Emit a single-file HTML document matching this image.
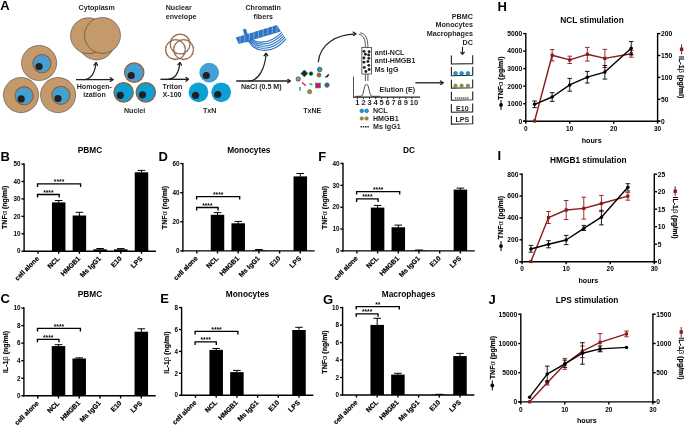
<!DOCTYPE html>
<html><head><meta charset="utf-8"><title>Figure</title>
<style>html,body{margin:0;padding:0;background:#fff}svg{display:block}</style></head>
<body>
<svg width="685" height="425" viewBox="0 0 685 425" font-family='"Liberation Sans", Arial, sans-serif'>
<rect width="685" height="425" fill="#fff"/>
<text x="0.30" y="10.00" font-size="13" text-anchor="start" font-weight="bold" fill="#000">A</text>
<circle cx="39.10" cy="63.00" r="17.60" fill="#c49a6c" stroke="#231f20" stroke-width="0.45"/>
<circle cx="41.90" cy="63.60" r="9.10" fill="#44a0d2" stroke="#9a5b2b" stroke-width="1.1"/>
<circle cx="39.00" cy="66.50" r="3.60" fill="#231f20" stroke="none" stroke-width="0"/>
<circle cx="21.00" cy="95.10" r="17.60" fill="#c49a6c" stroke="#231f20" stroke-width="0.45"/>
<circle cx="24.10" cy="95.70" r="9.10" fill="#44a0d2" stroke="#9a5b2b" stroke-width="1.1"/>
<circle cx="21.20" cy="98.90" r="3.60" fill="#231f20" stroke="none" stroke-width="0"/>
<circle cx="58.10" cy="95.10" r="17.60" fill="#c49a6c" stroke="#231f20" stroke-width="0.45"/>
<circle cx="60.90" cy="95.30" r="9.10" fill="#44a0d2" stroke="#9a5b2b" stroke-width="1.1"/>
<circle cx="58.00" cy="98.50" r="3.60" fill="#231f20" stroke="none" stroke-width="0"/>
<circle cx="96.50" cy="41.90" r="18.00" fill="#c49a6c" stroke="#231f20" stroke-width="0.45"/>
<circle cx="88.50" cy="35.70" r="18.00" fill="#c49a6c" stroke="#231f20" stroke-width="0.45"/>
<circle cx="102.50" cy="35.40" r="18.00" fill="#c49a6c" stroke="#231f20" stroke-width="0.45"/>
<text x="78.60" y="9.90" font-size="7.1" text-anchor="start" font-weight="bold" fill="#231f20">Cytoplasm</text>
<defs><marker id="ah" viewBox="0 0 10 10" refX="8.6" refY="5" markerWidth="5" markerHeight="5" orient="auto-start-reverse" markerUnits="userSpaceOnUse"><path d="M3.2 1.2L8.6 5L3.2 8.8" fill="none" stroke="#231f20" stroke-width="2.5" stroke-linecap="round" stroke-linejoin="miter"/></marker></defs>
<path d="M76 79.6H113" fill="none" stroke="#231f20" stroke-width="1.35" marker-end="url(#ah)"/>
<path d="M83.4 79.6C91 79.6 95 72 96.1 62.6" fill="none" stroke="#231f20" stroke-width="1.2" marker-end="url(#ah)"/>
<text x="94.30" y="88.70" font-size="7.1" text-anchor="middle" font-weight="bold" fill="#231f20">Homogen-</text>
<text x="94.50" y="97.40" font-size="7.1" text-anchor="middle" font-weight="bold" fill="#231f20">ization</text>
<circle cx="134.20" cy="72.60" r="9.70" fill="#44a0d2" stroke="#9a5b2b" stroke-width="1.2"/>
<circle cx="131.20" cy="75.50" r="3.60" fill="#231f20" stroke="none" stroke-width="0"/>
<circle cx="123.60" cy="92.40" r="9.70" fill="#0d9fd6" stroke="#9a5b2b" stroke-width="1.2"/>
<circle cx="120.30" cy="95.30" r="3.60" fill="#231f20" stroke="none" stroke-width="0"/>
<circle cx="145.80" cy="92.40" r="9.70" fill="#0d9fd6" stroke="#9a5b2b" stroke-width="1.2"/>
<circle cx="142.50" cy="94.80" r="3.60" fill="#231f20" stroke="none" stroke-width="0"/>
<text x="134.60" y="112.60" font-size="7.1" text-anchor="middle" font-weight="bold" fill="#231f20">Nuclei</text>
<path d="M160.4 79.3H188.6" fill="none" stroke="#231f20" stroke-width="1.35" marker-end="url(#ah)"/>
<path d="M167.7 79.3C175 79.3 179 72 180.0 62.4" fill="none" stroke="#231f20" stroke-width="1.2" marker-end="url(#ah)"/>
<text x="162.60" y="88.80" font-size="7.1" text-anchor="start" font-weight="bold" fill="#231f20">Triton</text>
<text x="162.60" y="97.20" font-size="7.1" text-anchor="start" font-weight="bold" fill="#231f20">X-100</text>
<text x="165.70" y="9.90" font-size="7.1" text-anchor="start" font-weight="bold" fill="#231f20">Nuclear</text>
<text x="165.70" y="18.50" font-size="7.1" text-anchor="start" font-weight="bold" fill="#231f20">envelope</text>
<circle cx="180.10" cy="44.00" r="9.90" fill="none" stroke="#8b5a3c" stroke-width="1.3"/>
<circle cx="180.10" cy="44.00" r="9.90" fill="none" stroke="#fff" stroke-width="0.7" stroke-dasharray="0.6 2.3" opacity="0.85"/>
<circle cx="175.50" cy="49.60" r="9.90" fill="none" stroke="#8b5a3c" stroke-width="1.3"/>
<circle cx="175.50" cy="49.60" r="9.90" fill="none" stroke="#fff" stroke-width="0.7" stroke-dasharray="0.6 2.3" opacity="0.85"/>
<circle cx="183.60" cy="49.60" r="9.90" fill="none" stroke="#8b5a3c" stroke-width="1.3"/>
<circle cx="183.60" cy="49.60" r="9.90" fill="none" stroke="#fff" stroke-width="0.7" stroke-dasharray="0.6 2.3" opacity="0.85"/>
<circle cx="209.20" cy="72.60" r="9.85" fill="#44a0d2" stroke="none" stroke-width="0"/>
<circle cx="206.30" cy="75.50" r="3.60" fill="#231f20" stroke="none" stroke-width="0"/>
<circle cx="198.50" cy="92.30" r="9.85" fill="#0d9fd6" stroke="none" stroke-width="0"/>
<circle cx="195.60" cy="95.30" r="3.60" fill="#231f20" stroke="none" stroke-width="0"/>
<circle cx="221.20" cy="92.30" r="9.85" fill="#0d9fd6" stroke="none" stroke-width="0"/>
<circle cx="217.70" cy="94.50" r="3.60" fill="#231f20" stroke="none" stroke-width="0"/>
<text x="209.60" y="113.40" font-size="7.1" text-anchor="middle" font-weight="bold" fill="#231f20">TxN</text>
<path d="M236.2 81H290.3" fill="none" stroke="#231f20" stroke-width="1.35" marker-end="url(#ah)"/>
<path d="M248.6 81C259 81 265 68 266.2 53.2" fill="none" stroke="#231f20" stroke-width="1.2" marker-end="url(#ah)"/>
<text x="241.00" y="89.40" font-size="7.1" text-anchor="start" font-weight="bold" fill="#231f20">NaCl (0.5 M)</text>
<text x="263.20" y="9.90" font-size="7.1" text-anchor="middle" font-weight="bold" fill="#231f20">Chromatin</text>
<text x="263.20" y="18.70" font-size="7.1" text-anchor="middle" font-weight="bold" fill="#231f20">fibers</text>
<g stroke="#2d74c4" fill="none" stroke-width="1.1">
<path d="M249.0 35.0C253.0 44.0 268.0 46.0 281.8 32.3"/>
<path d="M248.5 35.2C252.2 46.2 269.0 48.5 282.9 33.9"/>
<path d="M248.0 35.5C251.5 48.5 270.0 51.0 284.0 35.6"/>
<path d="M247.5 35.8C250.8 50.8 271.0 53.5 285.0 37.2"/>
<path d="M247.0 36.0C250.0 53.0 272.0 56.0 286.1 38.9"/>
</g>
<path d="M243.0 29.9Q244.5 27.6 246.2 29.6L250 41L246.0 42.5Z" fill="#2d74c4"/>
<path d="M235.7 37.5L276.9 25.1L280.9 31.4L238.8 44.1Z" fill="#2d74c4"/>
<line x1="240.0" y1="42.9" x2="240.2" y2="35.7" stroke="#fff" stroke-width="0.5" opacity="0.75"/>
<line x1="244.6" y1="41.5" x2="244.8" y2="34.3" stroke="#fff" stroke-width="0.5" opacity="0.75"/>
<line x1="249.2" y1="40.1" x2="249.4" y2="32.9" stroke="#fff" stroke-width="0.5" opacity="0.75"/>
<line x1="253.8" y1="38.8" x2="254.0" y2="31.6" stroke="#fff" stroke-width="0.5" opacity="0.75"/>
<line x1="258.4" y1="37.4" x2="258.6" y2="30.2" stroke="#fff" stroke-width="0.5" opacity="0.75"/>
<line x1="263.0" y1="36.0" x2="263.2" y2="28.8" stroke="#fff" stroke-width="0.5" opacity="0.75"/>
<line x1="267.6" y1="34.6" x2="267.8" y2="27.4" stroke="#fff" stroke-width="0.5" opacity="0.75"/>
<line x1="272.2" y1="33.2" x2="272.4" y2="26.0" stroke="#fff" stroke-width="0.5" opacity="0.75"/>
<line x1="276.8" y1="31.9" x2="277.0" y2="24.7" stroke="#fff" stroke-width="0.5" opacity="0.75"/>
<circle cx="298.20" cy="79.00" r="2.20" fill="#9d9d9d" stroke="#231f20" stroke-width="0.6"/>
<path d="M304.4 69.9L307.9 73.4L304.4 76.9L300.9 73.4Z" fill="#231f20" stroke="#00a651" stroke-width="0.7"/>
<circle cx="311.00" cy="73.60" r="1.90" fill="#231f20" stroke="#00a651" stroke-width="0.7"/>
<circle cx="319.70" cy="69.50" r="2.30" fill="#1c9ad6" stroke="#231f20" stroke-width="0.55"/>
<circle cx="319.00" cy="75.00" r="2.10" fill="#e03c31" stroke="#00a651" stroke-width="0.7"/>
<path d="M325.4 76.9Q328 76.4 328.7 74.2" fill="none" stroke="#231f20" stroke-width="1.5"/>
<line x1="301.90" y1="82.60" x2="305.80" y2="85.50" stroke="#e6007e" stroke-width="1.3" stroke-linecap="butt"/>
<line x1="309.50" y1="83.60" x2="312.40" y2="84.80" stroke="#00a651" stroke-width="1.3" stroke-linecap="butt"/>
<line x1="300.00" y1="87.00" x2="300.00" y2="90.70" stroke="#00a651" stroke-width="1.3" stroke-linecap="butt"/>
<rect x="315.60" y="83.10" width="4.80" height="4.80" fill="#e6007e" stroke="#00a651" stroke-width="0.7"/>
<circle cx="327.00" cy="85.10" r="2.30" fill="#7b3fa0" stroke="#00a651" stroke-width="0.7"/>
<circle cx="309.60" cy="91.70" r="2.10" fill="#f26522" stroke="#00a651" stroke-width="0.7"/>
<text x="312.20" y="112.60" font-size="7.1" text-anchor="middle" font-weight="bold" fill="#231f20">TxNE</text>
<path d="M318.2 62.3C320 44 336 34.5 355.9 33.9" fill="none" stroke="#231f20" stroke-width="1.2" marker-end="url(#ah)"/>
<path d="M358.9 34.4C363.5 35 365.4 39 365.4 47.4" fill="none" stroke="#231f20" stroke-width="0.75"/>
<path d="M360.2 32.9C366 33.5 367.9 39 367.9 47.4" fill="none" stroke="#231f20" stroke-width="0.75"/>
<rect x="361.90" y="47.40" width="9.70" height="26.60" fill="#fff" stroke="#231f20" stroke-width="0.7"/>
<circle cx="363.98" cy="51.35" r="1.45" fill="#231f20" stroke="none" stroke-width="0"/>
<circle cx="369.09" cy="51.79" r="1.45" fill="#231f20" stroke="none" stroke-width="0"/>
<circle cx="365.44" cy="54.27" r="1.45" fill="#231f20" stroke="none" stroke-width="0"/>
<circle cx="368.65" cy="55.00" r="1.45" fill="#231f20" stroke="none" stroke-width="0"/>
<circle cx="363.98" cy="58.07" r="1.45" fill="#231f20" stroke="none" stroke-width="0"/>
<circle cx="368.80" cy="58.36" r="1.45" fill="#231f20" stroke="none" stroke-width="0"/>
<circle cx="367.92" cy="61.57" r="1.45" fill="#231f20" stroke="none" stroke-width="0"/>
<circle cx="363.98" cy="62.15" r="1.45" fill="#231f20" stroke="none" stroke-width="0"/>
<circle cx="368.80" cy="65.36" r="1.45" fill="#231f20" stroke="none" stroke-width="0"/>
<circle cx="364.27" cy="67.41" r="1.45" fill="#231f20" stroke="none" stroke-width="0"/>
<circle cx="369.09" cy="69.45" r="1.45" fill="#231f20" stroke="none" stroke-width="0"/>
<circle cx="365.88" cy="71.50" r="1.45" fill="#231f20" stroke="none" stroke-width="0"/>
<line x1="365.40" y1="74.00" x2="365.40" y2="81.00" stroke="#231f20" stroke-width="0.75" stroke-linecap="butt"/>
<line x1="367.90" y1="74.00" x2="367.90" y2="81.00" stroke="#231f20" stroke-width="0.75" stroke-linecap="butt"/>
<text x="374.80" y="54.70" font-size="7.1" text-anchor="start" font-weight="bold" fill="#231f20">anti-NCL</text>
<text x="374.80" y="63.40" font-size="7.1" text-anchor="start" font-weight="bold" fill="#231f20">anti-HMGB1</text>
<text x="374.80" y="71.60" font-size="7.1" text-anchor="start" font-weight="bold" fill="#231f20">Ms IgG</text>
<line x1="353.50" y1="76.60" x2="353.50" y2="97.50" stroke="#231f20" stroke-width="0.8" stroke-linecap="butt"/>
<line x1="353.20" y1="97.20" x2="420.20" y2="97.20" stroke="#231f20" stroke-width="1.2" stroke-linecap="butt"/>
<path d="M355.5 96.3H361C364 96.3 363.6 84.3 366.5 84.3C369.4 84.3 369 96.3 372 96.3H380" fill="none" stroke="#231f20" stroke-width="0.8"/>
<line x1="357.40" y1="97.20" x2="357.40" y2="99.20" stroke="#231f20" stroke-width="0.9" stroke-linecap="butt"/>
<text x="357.40" y="105.40" font-size="7.5" text-anchor="middle" font-weight="bold" fill="#231f20">1</text>
<line x1="363.50" y1="97.20" x2="363.50" y2="99.20" stroke="#231f20" stroke-width="0.9" stroke-linecap="butt"/>
<text x="363.50" y="105.40" font-size="7.5" text-anchor="middle" font-weight="bold" fill="#231f20">2</text>
<line x1="369.50" y1="97.20" x2="369.50" y2="99.20" stroke="#231f20" stroke-width="0.9" stroke-linecap="butt"/>
<text x="369.50" y="105.40" font-size="7.5" text-anchor="middle" font-weight="bold" fill="#231f20">3</text>
<line x1="375.70" y1="97.20" x2="375.70" y2="99.20" stroke="#231f20" stroke-width="0.9" stroke-linecap="butt"/>
<text x="375.70" y="105.40" font-size="7.5" text-anchor="middle" font-weight="bold" fill="#231f20">4</text>
<line x1="381.50" y1="97.20" x2="381.50" y2="99.20" stroke="#231f20" stroke-width="0.9" stroke-linecap="butt"/>
<text x="381.50" y="105.40" font-size="7.5" text-anchor="middle" font-weight="bold" fill="#231f20">5</text>
<line x1="387.60" y1="97.20" x2="387.60" y2="99.20" stroke="#231f20" stroke-width="0.9" stroke-linecap="butt"/>
<text x="387.60" y="105.40" font-size="7.5" text-anchor="middle" font-weight="bold" fill="#231f20">6</text>
<line x1="393.60" y1="97.20" x2="393.60" y2="99.20" stroke="#231f20" stroke-width="0.9" stroke-linecap="butt"/>
<text x="393.60" y="105.40" font-size="7.5" text-anchor="middle" font-weight="bold" fill="#231f20">7</text>
<line x1="399.70" y1="97.20" x2="399.70" y2="99.20" stroke="#231f20" stroke-width="0.9" stroke-linecap="butt"/>
<text x="399.70" y="105.40" font-size="7.5" text-anchor="middle" font-weight="bold" fill="#231f20">8</text>
<line x1="405.90" y1="97.20" x2="405.90" y2="99.20" stroke="#231f20" stroke-width="0.9" stroke-linecap="butt"/>
<text x="405.90" y="105.40" font-size="7.5" text-anchor="middle" font-weight="bold" fill="#231f20">9</text>
<line x1="411.90" y1="97.20" x2="411.90" y2="99.20" stroke="#231f20" stroke-width="0.9" stroke-linecap="butt"/>
<text x="413.90" y="105.40" font-size="7.5" text-anchor="middle" font-weight="bold" fill="#231f20">10</text>
<text x="379.60" y="92.20" font-size="7.1" text-anchor="start" font-weight="bold" fill="#231f20">Elution (E)</text>
<path d="M415.4 82.8H443.2" fill="none" stroke="#231f20" stroke-width="1.35" marker-end="url(#ah)"/>
<circle cx="361.80" cy="110.80" r="1.90" fill="#1c9ad6" stroke="#0f6f9f" stroke-width="0.6"/>
<circle cx="366.60" cy="110.80" r="1.90" fill="#1c9ad6" stroke="#0f6f9f" stroke-width="0.6"/>
<text x="373.00" y="113.20" font-size="7.1" text-anchor="start" font-weight="bold" fill="#231f20">NCL</text>
<circle cx="361.80" cy="118.50" r="1.70" fill="#f26522" stroke="#00a651" stroke-width="0.6"/>
<circle cx="366.60" cy="118.50" r="1.70" fill="#f26522" stroke="#00a651" stroke-width="0.6"/>
<text x="373.00" y="121.00" font-size="7.1" text-anchor="start" font-weight="bold" fill="#231f20">HMGB1</text>
<line x1="360.6" y1="126.8" x2="368.8" y2="126.8" stroke="#231f20" stroke-width="1.4" stroke-dasharray="1.4 0.85"/>
<text x="373.00" y="129.20" font-size="7.1" text-anchor="start" font-weight="bold" fill="#231f20">Ms IgG1</text>
<text x="473.00" y="18.70" font-size="7.2" text-anchor="end" font-weight="bold" fill="#231f20">PBMC</text>
<text x="473.00" y="27.40" font-size="7.2" text-anchor="end" font-weight="bold" fill="#231f20">Monocytes</text>
<text x="473.00" y="36.20" font-size="7.2" text-anchor="end" font-weight="bold" fill="#231f20">Macrophages</text>
<text x="473.00" y="44.60" font-size="7.2" text-anchor="end" font-weight="bold" fill="#231f20">DC</text>
<path d="M462.5 46.7V54.2M460.4 51.8L462.5 54.4L464.6 51.8" fill="none" stroke="#231f20" stroke-width="1.1"/>
<path d="M451.4 55.5V64.0L472.7 63.6V55.2" fill="none" stroke="#231f20" stroke-width="1.1"/>
<path d="M451.4 67.0V75.7L472.7 75.3V66.7" fill="none" stroke="#231f20" stroke-width="1.1"/>
<circle cx="455.50" cy="73.30" r="1.90" fill="#1c9ad6" stroke="#0f6f9f" stroke-width="0.6"/>
<circle cx="461.60" cy="73.30" r="1.90" fill="#1c9ad6" stroke="#0f6f9f" stroke-width="0.6"/>
<circle cx="467.90" cy="73.30" r="1.90" fill="#1c9ad6" stroke="#0f6f9f" stroke-width="0.6"/>
<path d="M451.4 79.8V88.1L472.7 87.69999999999999V79.5" fill="none" stroke="#231f20" stroke-width="1.1"/>
<circle cx="455.50" cy="85.70" r="1.70" fill="#f26522" stroke="#00a651" stroke-width="0.6"/>
<circle cx="461.60" cy="85.70" r="1.70" fill="#f26522" stroke="#00a651" stroke-width="0.6"/>
<circle cx="467.90" cy="85.70" r="1.70" fill="#f26522" stroke="#00a651" stroke-width="0.6"/>
<path d="M451.4 91.7V100.2L472.7 99.8V91.4" fill="none" stroke="#231f20" stroke-width="1.1"/>
<line x1="455.2" y1="98.0" x2="468.4" y2="98.0" stroke="#231f20" stroke-width="1.3" stroke-dasharray="1.0 1.03"/>
<path d="M451.4 103.9V112.3L472.7 111.89999999999999V103.60000000000001" fill="none" stroke="#231f20" stroke-width="1.1"/>
<text x="462.30" y="111.10" font-size="7.1" text-anchor="middle" font-weight="bold" fill="#231f20">E10</text>
<path d="M451.4 115.8V124.1L472.7 123.69999999999999V115.5" fill="none" stroke="#231f20" stroke-width="1.1"/>
<text x="462.40" y="121.80" font-size="7.1" text-anchor="middle" font-weight="bold" fill="#231f20">LPS</text>
<line x1="24.10" y1="163.40" x2="24.10" y2="251.90" stroke="#000" stroke-width="1.4" stroke-linecap="butt"/>
<line x1="23.40" y1="251.20" x2="155.90" y2="251.20" stroke="#000" stroke-width="1.4" stroke-linecap="butt"/>
<line x1="21.50" y1="251.20" x2="24.10" y2="251.20" stroke="#000" stroke-width="1.4" stroke-linecap="butt"/>
<text x="20.60" y="253.45" font-size="6.3" text-anchor="end" font-weight="bold" fill="#000">0</text>
<line x1="21.50" y1="233.80" x2="24.10" y2="233.80" stroke="#000" stroke-width="1.4" stroke-linecap="butt"/>
<text x="20.60" y="236.05" font-size="6.3" text-anchor="end" font-weight="bold" fill="#000">10</text>
<line x1="21.50" y1="216.40" x2="24.10" y2="216.40" stroke="#000" stroke-width="1.4" stroke-linecap="butt"/>
<text x="20.60" y="218.65" font-size="6.3" text-anchor="end" font-weight="bold" fill="#000">20</text>
<line x1="21.50" y1="198.90" x2="24.10" y2="198.90" stroke="#000" stroke-width="1.4" stroke-linecap="butt"/>
<text x="20.60" y="201.15" font-size="6.3" text-anchor="end" font-weight="bold" fill="#000">30</text>
<line x1="21.50" y1="181.50" x2="24.10" y2="181.50" stroke="#000" stroke-width="1.4" stroke-linecap="butt"/>
<text x="20.60" y="183.75" font-size="6.3" text-anchor="end" font-weight="bold" fill="#000">40</text>
<line x1="21.50" y1="164.10" x2="24.10" y2="164.10" stroke="#000" stroke-width="1.4" stroke-linecap="butt"/>
<text x="20.60" y="166.35" font-size="6.3" text-anchor="end" font-weight="bold" fill="#000">50</text>
<line x1="38.00" y1="251.20" x2="38.00" y2="253.80" stroke="#000" stroke-width="1.4" stroke-linecap="butt"/>
<text x="39.40" y="259.10" font-size="6.8" text-anchor="end" font-weight="bold" fill="#000" transform="rotate(-45 39.40 259.10)" stroke="#000" stroke-width="0.18">cell alone</text>
<line x1="58.70" y1="251.20" x2="58.70" y2="253.80" stroke="#000" stroke-width="1.4" stroke-linecap="butt"/>
<text x="60.10" y="259.10" font-size="6.8" text-anchor="end" font-weight="bold" fill="#000" transform="rotate(-45 60.10 259.10)" stroke="#000" stroke-width="0.18">NCL</text>
<rect x="51.95" y="202.40" width="13.50" height="48.80" fill="#000" stroke="none" stroke-width="0"/>
<line x1="58.70" y1="200.50" x2="58.70" y2="202.90" stroke="#000" stroke-width="1.0" stroke-linecap="butt"/>
<line x1="54.90" y1="200.50" x2="62.50" y2="200.50" stroke="#000" stroke-width="1.0" stroke-linecap="butt"/>
<line x1="79.40" y1="251.20" x2="79.40" y2="253.80" stroke="#000" stroke-width="1.4" stroke-linecap="butt"/>
<text x="80.80" y="259.10" font-size="6.8" text-anchor="end" font-weight="bold" fill="#000" transform="rotate(-45 80.80 259.10)" stroke="#000" stroke-width="0.18">HMGB1</text>
<rect x="72.65" y="215.50" width="13.50" height="35.70" fill="#000" stroke="none" stroke-width="0"/>
<line x1="79.40" y1="212.30" x2="79.40" y2="216.00" stroke="#000" stroke-width="1.0" stroke-linecap="butt"/>
<line x1="75.60" y1="212.30" x2="83.20" y2="212.30" stroke="#000" stroke-width="1.0" stroke-linecap="butt"/>
<line x1="100.10" y1="251.20" x2="100.10" y2="253.80" stroke="#000" stroke-width="1.4" stroke-linecap="butt"/>
<text x="101.50" y="259.10" font-size="6.8" text-anchor="end" font-weight="bold" fill="#000" transform="rotate(-45 101.50 259.10)" stroke="#000" stroke-width="0.18">Ms IgG1</text>
<rect x="93.35" y="249.30" width="13.50" height="1.90" fill="#000" stroke="none" stroke-width="0"/>
<line x1="100.10" y1="248.50" x2="100.10" y2="249.80" stroke="#000" stroke-width="1.0" stroke-linecap="butt"/>
<line x1="96.30" y1="248.50" x2="103.90" y2="248.50" stroke="#000" stroke-width="1.0" stroke-linecap="butt"/>
<line x1="120.80" y1="251.20" x2="120.80" y2="253.80" stroke="#000" stroke-width="1.4" stroke-linecap="butt"/>
<text x="122.20" y="259.10" font-size="6.8" text-anchor="end" font-weight="bold" fill="#000" transform="rotate(-45 122.20 259.10)" stroke="#000" stroke-width="0.18">E10</text>
<rect x="114.05" y="249.30" width="13.50" height="1.90" fill="#000" stroke="none" stroke-width="0"/>
<line x1="120.80" y1="248.60" x2="120.80" y2="249.80" stroke="#000" stroke-width="1.0" stroke-linecap="butt"/>
<line x1="117.00" y1="248.60" x2="124.60" y2="248.60" stroke="#000" stroke-width="1.0" stroke-linecap="butt"/>
<line x1="141.50" y1="251.20" x2="141.50" y2="253.80" stroke="#000" stroke-width="1.4" stroke-linecap="butt"/>
<text x="142.90" y="259.10" font-size="6.8" text-anchor="end" font-weight="bold" fill="#000" transform="rotate(-45 142.90 259.10)" stroke="#000" stroke-width="0.18">LPS</text>
<rect x="134.75" y="172.30" width="13.50" height="78.90" fill="#000" stroke="none" stroke-width="0"/>
<line x1="141.50" y1="170.40" x2="141.50" y2="172.80" stroke="#000" stroke-width="1.0" stroke-linecap="butt"/>
<line x1="137.70" y1="170.40" x2="145.30" y2="170.40" stroke="#000" stroke-width="1.0" stroke-linecap="butt"/>
<path d="M37.50 186.90V183.90H80.60V186.90" fill="none" stroke="#000" stroke-width="1.35"/>
<text x="59.05" y="184.10" font-size="6.7" text-anchor="middle" font-weight="bold" fill="#000">****</text>
<path d="M37.50 197.50V194.50H59.20V197.50" fill="none" stroke="#000" stroke-width="1.35"/>
<text x="48.35" y="194.70" font-size="6.7" text-anchor="middle" font-weight="bold" fill="#000">****</text>
<text x="90.00" y="152.60" font-size="8.3" text-anchor="middle" font-weight="bold" fill="#000">PBMC</text>
<text x="0.60" y="160.70" font-size="13" text-anchor="start" font-weight="bold" fill="#000">B</text>
<text x="7.40" y="207.30" font-size="7" text-anchor="middle" font-weight="bold" fill="#000" transform="rotate(-90 7.40 207.30)" stroke="#000" stroke-width="0.18">TNF<tspan font-weight="normal" font-size="7.6" stroke="none">α</tspan> (ng/ml)</text>
<line x1="23.90" y1="307.35" x2="23.90" y2="396.50" stroke="#000" stroke-width="1.4" stroke-linecap="butt"/>
<line x1="23.20" y1="395.80" x2="155.70" y2="395.80" stroke="#000" stroke-width="1.4" stroke-linecap="butt"/>
<line x1="21.30" y1="395.80" x2="23.90" y2="395.80" stroke="#000" stroke-width="1.4" stroke-linecap="butt"/>
<text x="20.40" y="398.05" font-size="6.3" text-anchor="end" font-weight="bold" fill="#000">0</text>
<line x1="21.30" y1="378.25" x2="23.90" y2="378.25" stroke="#000" stroke-width="1.4" stroke-linecap="butt"/>
<text x="20.40" y="380.50" font-size="6.3" text-anchor="end" font-weight="bold" fill="#000">2</text>
<line x1="21.30" y1="360.70" x2="23.90" y2="360.70" stroke="#000" stroke-width="1.4" stroke-linecap="butt"/>
<text x="20.40" y="362.95" font-size="6.3" text-anchor="end" font-weight="bold" fill="#000">4</text>
<line x1="21.30" y1="343.15" x2="23.90" y2="343.15" stroke="#000" stroke-width="1.4" stroke-linecap="butt"/>
<text x="20.40" y="345.40" font-size="6.3" text-anchor="end" font-weight="bold" fill="#000">6</text>
<line x1="21.30" y1="325.60" x2="23.90" y2="325.60" stroke="#000" stroke-width="1.4" stroke-linecap="butt"/>
<text x="20.40" y="327.85" font-size="6.3" text-anchor="end" font-weight="bold" fill="#000">8</text>
<line x1="21.30" y1="308.05" x2="23.90" y2="308.05" stroke="#000" stroke-width="1.4" stroke-linecap="butt"/>
<text x="20.40" y="310.30" font-size="6.3" text-anchor="end" font-weight="bold" fill="#000">10</text>
<line x1="37.80" y1="395.80" x2="37.80" y2="398.40" stroke="#000" stroke-width="1.4" stroke-linecap="butt"/>
<text x="39.20" y="403.70" font-size="6.8" text-anchor="end" font-weight="bold" fill="#000" transform="rotate(-45 39.20 403.70)" stroke="#000" stroke-width="0.18">cell alone</text>
<line x1="58.50" y1="395.80" x2="58.50" y2="398.40" stroke="#000" stroke-width="1.4" stroke-linecap="butt"/>
<text x="59.90" y="403.70" font-size="6.8" text-anchor="end" font-weight="bold" fill="#000" transform="rotate(-45 59.90 403.70)" stroke="#000" stroke-width="0.18">NCL</text>
<rect x="51.75" y="346.10" width="13.50" height="49.70" fill="#000" stroke="none" stroke-width="0"/>
<line x1="58.50" y1="344.70" x2="58.50" y2="346.60" stroke="#000" stroke-width="1.0" stroke-linecap="butt"/>
<line x1="54.70" y1="344.70" x2="62.30" y2="344.70" stroke="#000" stroke-width="1.0" stroke-linecap="butt"/>
<line x1="79.20" y1="395.80" x2="79.20" y2="398.40" stroke="#000" stroke-width="1.4" stroke-linecap="butt"/>
<text x="80.60" y="403.70" font-size="6.8" text-anchor="end" font-weight="bold" fill="#000" transform="rotate(-45 80.60 403.70)" stroke="#000" stroke-width="0.18">HMGB1</text>
<rect x="72.45" y="358.50" width="13.50" height="37.30" fill="#000" stroke="none" stroke-width="0"/>
<line x1="79.20" y1="357.90" x2="79.20" y2="359.00" stroke="#000" stroke-width="1.0" stroke-linecap="butt"/>
<line x1="75.40" y1="357.90" x2="83.00" y2="357.90" stroke="#000" stroke-width="1.0" stroke-linecap="butt"/>
<line x1="99.90" y1="395.80" x2="99.90" y2="398.40" stroke="#000" stroke-width="1.4" stroke-linecap="butt"/>
<text x="101.30" y="403.70" font-size="6.8" text-anchor="end" font-weight="bold" fill="#000" transform="rotate(-45 101.30 403.70)" stroke="#000" stroke-width="0.18">Ms IgG1</text>
<line x1="120.60" y1="395.80" x2="120.60" y2="398.40" stroke="#000" stroke-width="1.4" stroke-linecap="butt"/>
<text x="122.00" y="403.70" font-size="6.8" text-anchor="end" font-weight="bold" fill="#000" transform="rotate(-45 122.00 403.70)" stroke="#000" stroke-width="0.18">E10</text>
<line x1="141.30" y1="395.80" x2="141.30" y2="398.40" stroke="#000" stroke-width="1.4" stroke-linecap="butt"/>
<text x="142.70" y="403.70" font-size="6.8" text-anchor="end" font-weight="bold" fill="#000" transform="rotate(-45 142.70 403.70)" stroke="#000" stroke-width="0.18">LPS</text>
<rect x="134.55" y="331.70" width="13.50" height="64.10" fill="#000" stroke="none" stroke-width="0"/>
<line x1="141.30" y1="328.80" x2="141.30" y2="332.20" stroke="#000" stroke-width="1.0" stroke-linecap="butt"/>
<line x1="137.50" y1="328.80" x2="145.10" y2="328.80" stroke="#000" stroke-width="1.0" stroke-linecap="butt"/>
<path d="M37.50 331.40V328.40H80.40V331.40" fill="none" stroke="#000" stroke-width="1.35"/>
<text x="58.95" y="328.60" font-size="6.7" text-anchor="middle" font-weight="bold" fill="#000">****</text>
<path d="M37.40 342.30V339.30H59.00V342.30" fill="none" stroke="#000" stroke-width="1.35"/>
<text x="48.20" y="339.50" font-size="6.7" text-anchor="middle" font-weight="bold" fill="#000">****</text>
<text x="90.00" y="297.00" font-size="8.3" text-anchor="middle" font-weight="bold" fill="#000">PBMC</text>
<text x="0.40" y="303.30" font-size="13" text-anchor="start" font-weight="bold" fill="#000">C</text>
<text x="8.10" y="352.00" font-size="7" text-anchor="middle" font-weight="bold" fill="#000" transform="rotate(-90 8.10 352.00)" stroke="#000" stroke-width="0.18">IL-1<tspan font-weight="normal" font-size="7.8" stroke="none">β</tspan> (ng/ml)</text>
<line x1="182.90" y1="162.90" x2="182.90" y2="251.60" stroke="#000" stroke-width="1.4" stroke-linecap="butt"/>
<line x1="182.20" y1="250.90" x2="314.70" y2="250.90" stroke="#000" stroke-width="1.4" stroke-linecap="butt"/>
<line x1="180.30" y1="250.90" x2="182.90" y2="250.90" stroke="#000" stroke-width="1.4" stroke-linecap="butt"/>
<text x="179.40" y="253.15" font-size="6.3" text-anchor="end" font-weight="bold" fill="#000">0</text>
<line x1="180.30" y1="221.80" x2="182.90" y2="221.80" stroke="#000" stroke-width="1.4" stroke-linecap="butt"/>
<text x="179.40" y="224.05" font-size="6.3" text-anchor="end" font-weight="bold" fill="#000">20</text>
<line x1="180.30" y1="192.70" x2="182.90" y2="192.70" stroke="#000" stroke-width="1.4" stroke-linecap="butt"/>
<text x="179.40" y="194.95" font-size="6.3" text-anchor="end" font-weight="bold" fill="#000">40</text>
<line x1="180.30" y1="163.60" x2="182.90" y2="163.60" stroke="#000" stroke-width="1.4" stroke-linecap="butt"/>
<text x="179.40" y="165.85" font-size="6.3" text-anchor="end" font-weight="bold" fill="#000">60</text>
<line x1="196.80" y1="250.90" x2="196.80" y2="253.50" stroke="#000" stroke-width="1.4" stroke-linecap="butt"/>
<text x="198.20" y="258.80" font-size="6.8" text-anchor="end" font-weight="bold" fill="#000" transform="rotate(-45 198.20 258.80)" stroke="#000" stroke-width="0.18">cell alone</text>
<line x1="217.50" y1="250.90" x2="217.50" y2="253.50" stroke="#000" stroke-width="1.4" stroke-linecap="butt"/>
<text x="218.90" y="258.80" font-size="6.8" text-anchor="end" font-weight="bold" fill="#000" transform="rotate(-45 218.90 258.80)" stroke="#000" stroke-width="0.18">NCL</text>
<rect x="210.75" y="214.80" width="13.50" height="36.10" fill="#000" stroke="none" stroke-width="0"/>
<line x1="217.50" y1="212.60" x2="217.50" y2="215.30" stroke="#000" stroke-width="1.0" stroke-linecap="butt"/>
<line x1="213.70" y1="212.60" x2="221.30" y2="212.60" stroke="#000" stroke-width="1.0" stroke-linecap="butt"/>
<line x1="238.20" y1="250.90" x2="238.20" y2="253.50" stroke="#000" stroke-width="1.4" stroke-linecap="butt"/>
<text x="239.60" y="258.80" font-size="6.8" text-anchor="end" font-weight="bold" fill="#000" transform="rotate(-45 239.60 258.80)" stroke="#000" stroke-width="0.18">HMGB1</text>
<rect x="231.45" y="223.30" width="13.50" height="27.60" fill="#000" stroke="none" stroke-width="0"/>
<line x1="238.20" y1="221.40" x2="238.20" y2="223.80" stroke="#000" stroke-width="1.0" stroke-linecap="butt"/>
<line x1="234.40" y1="221.40" x2="242.00" y2="221.40" stroke="#000" stroke-width="1.0" stroke-linecap="butt"/>
<line x1="258.90" y1="250.90" x2="258.90" y2="253.50" stroke="#000" stroke-width="1.4" stroke-linecap="butt"/>
<text x="260.30" y="258.80" font-size="6.8" text-anchor="end" font-weight="bold" fill="#000" transform="rotate(-45 260.30 258.80)" stroke="#000" stroke-width="0.18">Ms IgG1</text>
<rect x="252.15" y="250.40" width="13.50" height="0.50" fill="#000" stroke="none" stroke-width="0"/>
<line x1="258.90" y1="249.50" x2="258.90" y2="250.90" stroke="#000" stroke-width="1.0" stroke-linecap="butt"/>
<line x1="255.10" y1="249.50" x2="262.70" y2="249.50" stroke="#000" stroke-width="1.0" stroke-linecap="butt"/>
<line x1="279.60" y1="250.90" x2="279.60" y2="253.50" stroke="#000" stroke-width="1.4" stroke-linecap="butt"/>
<text x="281.00" y="258.80" font-size="6.8" text-anchor="end" font-weight="bold" fill="#000" transform="rotate(-45 281.00 258.80)" stroke="#000" stroke-width="0.18">E10</text>
<line x1="300.30" y1="250.90" x2="300.30" y2="253.50" stroke="#000" stroke-width="1.4" stroke-linecap="butt"/>
<text x="301.70" y="258.80" font-size="6.8" text-anchor="end" font-weight="bold" fill="#000" transform="rotate(-45 301.70 258.80)" stroke="#000" stroke-width="0.18">LPS</text>
<rect x="293.55" y="176.40" width="13.50" height="74.50" fill="#000" stroke="none" stroke-width="0"/>
<line x1="300.30" y1="173.50" x2="300.30" y2="176.90" stroke="#000" stroke-width="1.0" stroke-linecap="butt"/>
<line x1="296.50" y1="173.50" x2="304.10" y2="173.50" stroke="#000" stroke-width="1.0" stroke-linecap="butt"/>
<path d="M196.60 199.60V196.60H239.70V199.60" fill="none" stroke="#000" stroke-width="1.35"/>
<text x="218.15" y="196.80" font-size="6.7" text-anchor="middle" font-weight="bold" fill="#000">****</text>
<path d="M196.60 210.50V207.50H218.10V210.50" fill="none" stroke="#000" stroke-width="1.35"/>
<text x="207.35" y="207.70" font-size="6.7" text-anchor="middle" font-weight="bold" fill="#000">****</text>
<text x="248.80" y="152.60" font-size="8.3" text-anchor="middle" font-weight="bold" fill="#000">Monocytes</text>
<text x="158.40" y="160.70" font-size="13" text-anchor="start" font-weight="bold" fill="#000">D</text>
<text x="166.50" y="207.50" font-size="7" text-anchor="middle" font-weight="bold" fill="#000" transform="rotate(-90 166.50 207.50)" stroke="#000" stroke-width="0.18">TNF<tspan font-weight="normal" font-size="7.6" stroke="none">α</tspan> (ng/ml)</text>
<line x1="181.60" y1="306.90" x2="181.60" y2="395.90" stroke="#000" stroke-width="1.4" stroke-linecap="butt"/>
<line x1="180.90" y1="395.20" x2="313.40" y2="395.20" stroke="#000" stroke-width="1.4" stroke-linecap="butt"/>
<line x1="179.00" y1="395.20" x2="181.60" y2="395.20" stroke="#000" stroke-width="1.4" stroke-linecap="butt"/>
<text x="178.10" y="397.45" font-size="6.3" text-anchor="end" font-weight="bold" fill="#000">0</text>
<line x1="179.00" y1="373.30" x2="181.60" y2="373.30" stroke="#000" stroke-width="1.4" stroke-linecap="butt"/>
<text x="178.10" y="375.55" font-size="6.3" text-anchor="end" font-weight="bold" fill="#000">2</text>
<line x1="179.00" y1="351.40" x2="181.60" y2="351.40" stroke="#000" stroke-width="1.4" stroke-linecap="butt"/>
<text x="178.10" y="353.65" font-size="6.3" text-anchor="end" font-weight="bold" fill="#000">4</text>
<line x1="179.00" y1="329.50" x2="181.60" y2="329.50" stroke="#000" stroke-width="1.4" stroke-linecap="butt"/>
<text x="178.10" y="331.75" font-size="6.3" text-anchor="end" font-weight="bold" fill="#000">6</text>
<line x1="179.00" y1="307.60" x2="181.60" y2="307.60" stroke="#000" stroke-width="1.4" stroke-linecap="butt"/>
<text x="178.10" y="309.85" font-size="6.3" text-anchor="end" font-weight="bold" fill="#000">8</text>
<line x1="195.50" y1="395.20" x2="195.50" y2="397.80" stroke="#000" stroke-width="1.4" stroke-linecap="butt"/>
<text x="196.90" y="403.10" font-size="6.8" text-anchor="end" font-weight="bold" fill="#000" transform="rotate(-45 196.90 403.10)" stroke="#000" stroke-width="0.18">cell alone</text>
<line x1="216.20" y1="395.20" x2="216.20" y2="397.80" stroke="#000" stroke-width="1.4" stroke-linecap="butt"/>
<text x="217.60" y="403.10" font-size="6.8" text-anchor="end" font-weight="bold" fill="#000" transform="rotate(-45 217.60 403.10)" stroke="#000" stroke-width="0.18">NCL</text>
<rect x="209.45" y="349.90" width="13.50" height="45.30" fill="#000" stroke="none" stroke-width="0"/>
<line x1="216.20" y1="348.50" x2="216.20" y2="350.40" stroke="#000" stroke-width="1.0" stroke-linecap="butt"/>
<line x1="212.40" y1="348.50" x2="220.00" y2="348.50" stroke="#000" stroke-width="1.0" stroke-linecap="butt"/>
<line x1="236.90" y1="395.20" x2="236.90" y2="397.80" stroke="#000" stroke-width="1.4" stroke-linecap="butt"/>
<text x="238.30" y="403.10" font-size="6.8" text-anchor="end" font-weight="bold" fill="#000" transform="rotate(-45 238.30 403.10)" stroke="#000" stroke-width="0.18">HMGB1</text>
<rect x="230.15" y="372.10" width="13.50" height="23.10" fill="#000" stroke="none" stroke-width="0"/>
<line x1="236.90" y1="370.40" x2="236.90" y2="372.60" stroke="#000" stroke-width="1.0" stroke-linecap="butt"/>
<line x1="233.10" y1="370.40" x2="240.70" y2="370.40" stroke="#000" stroke-width="1.0" stroke-linecap="butt"/>
<line x1="257.60" y1="395.20" x2="257.60" y2="397.80" stroke="#000" stroke-width="1.4" stroke-linecap="butt"/>
<text x="259.00" y="403.10" font-size="6.8" text-anchor="end" font-weight="bold" fill="#000" transform="rotate(-45 259.00 403.10)" stroke="#000" stroke-width="0.18">Ms IgG1</text>
<line x1="278.30" y1="395.20" x2="278.30" y2="397.80" stroke="#000" stroke-width="1.4" stroke-linecap="butt"/>
<text x="279.70" y="403.10" font-size="6.8" text-anchor="end" font-weight="bold" fill="#000" transform="rotate(-45 279.70 403.10)" stroke="#000" stroke-width="0.18">E10</text>
<line x1="299.00" y1="395.20" x2="299.00" y2="397.80" stroke="#000" stroke-width="1.4" stroke-linecap="butt"/>
<text x="300.40" y="403.10" font-size="6.8" text-anchor="end" font-weight="bold" fill="#000" transform="rotate(-45 300.40 403.10)" stroke="#000" stroke-width="0.18">LPS</text>
<rect x="292.25" y="330.00" width="13.50" height="65.20" fill="#000" stroke="none" stroke-width="0"/>
<line x1="299.00" y1="327.30" x2="299.00" y2="330.50" stroke="#000" stroke-width="1.0" stroke-linecap="butt"/>
<line x1="295.20" y1="327.30" x2="302.80" y2="327.30" stroke="#000" stroke-width="1.0" stroke-linecap="butt"/>
<path d="M195.10 334.40V331.40H237.90V334.40" fill="none" stroke="#000" stroke-width="1.35"/>
<text x="216.50" y="331.60" font-size="6.7" text-anchor="middle" font-weight="bold" fill="#000">****</text>
<path d="M195.10 344.90V341.90H216.30V344.90" fill="none" stroke="#000" stroke-width="1.35"/>
<text x="205.70" y="342.10" font-size="6.7" text-anchor="middle" font-weight="bold" fill="#000">****</text>
<text x="247.50" y="296.90" font-size="8.3" text-anchor="middle" font-weight="bold" fill="#000">Monocytes</text>
<text x="160.30" y="303.30" font-size="13" text-anchor="start" font-weight="bold" fill="#000">E</text>
<text x="169.10" y="352.50" font-size="7" text-anchor="middle" font-weight="bold" fill="#000" transform="rotate(-90 169.10 352.50)" stroke="#000" stroke-width="0.18">IL-1<tspan font-weight="normal" font-size="7.8" stroke="none">β</tspan> (ng/ml)</text>
<line x1="343.00" y1="162.80" x2="343.00" y2="251.60" stroke="#000" stroke-width="1.4" stroke-linecap="butt"/>
<line x1="342.30" y1="250.90" x2="474.80" y2="250.90" stroke="#000" stroke-width="1.4" stroke-linecap="butt"/>
<line x1="340.40" y1="250.90" x2="343.00" y2="250.90" stroke="#000" stroke-width="1.4" stroke-linecap="butt"/>
<text x="339.50" y="253.15" font-size="6.3" text-anchor="end" font-weight="bold" fill="#000">0</text>
<line x1="340.40" y1="229.05" x2="343.00" y2="229.05" stroke="#000" stroke-width="1.4" stroke-linecap="butt"/>
<text x="339.50" y="231.30" font-size="6.3" text-anchor="end" font-weight="bold" fill="#000">10</text>
<line x1="340.40" y1="207.20" x2="343.00" y2="207.20" stroke="#000" stroke-width="1.4" stroke-linecap="butt"/>
<text x="339.50" y="209.45" font-size="6.3" text-anchor="end" font-weight="bold" fill="#000">20</text>
<line x1="340.40" y1="185.35" x2="343.00" y2="185.35" stroke="#000" stroke-width="1.4" stroke-linecap="butt"/>
<text x="339.50" y="187.60" font-size="6.3" text-anchor="end" font-weight="bold" fill="#000">30</text>
<line x1="340.40" y1="163.50" x2="343.00" y2="163.50" stroke="#000" stroke-width="1.4" stroke-linecap="butt"/>
<text x="339.50" y="165.75" font-size="6.3" text-anchor="end" font-weight="bold" fill="#000">40</text>
<line x1="356.90" y1="250.90" x2="356.90" y2="253.50" stroke="#000" stroke-width="1.4" stroke-linecap="butt"/>
<text x="358.30" y="258.80" font-size="6.8" text-anchor="end" font-weight="bold" fill="#000" transform="rotate(-45 358.30 258.80)" stroke="#000" stroke-width="0.18">cell alone</text>
<line x1="377.60" y1="250.90" x2="377.60" y2="253.50" stroke="#000" stroke-width="1.4" stroke-linecap="butt"/>
<text x="379.00" y="258.80" font-size="6.8" text-anchor="end" font-weight="bold" fill="#000" transform="rotate(-45 379.00 258.80)" stroke="#000" stroke-width="0.18">NCL</text>
<rect x="370.85" y="207.60" width="13.50" height="43.30" fill="#000" stroke="none" stroke-width="0"/>
<line x1="377.60" y1="205.40" x2="377.60" y2="208.10" stroke="#000" stroke-width="1.0" stroke-linecap="butt"/>
<line x1="373.80" y1="205.40" x2="381.40" y2="205.40" stroke="#000" stroke-width="1.0" stroke-linecap="butt"/>
<line x1="398.30" y1="250.90" x2="398.30" y2="253.50" stroke="#000" stroke-width="1.4" stroke-linecap="butt"/>
<text x="399.70" y="258.80" font-size="6.8" text-anchor="end" font-weight="bold" fill="#000" transform="rotate(-45 399.70 258.80)" stroke="#000" stroke-width="0.18">HMGB1</text>
<rect x="391.55" y="227.30" width="13.50" height="23.60" fill="#000" stroke="none" stroke-width="0"/>
<line x1="398.30" y1="225.10" x2="398.30" y2="227.80" stroke="#000" stroke-width="1.0" stroke-linecap="butt"/>
<line x1="394.50" y1="225.10" x2="402.10" y2="225.10" stroke="#000" stroke-width="1.0" stroke-linecap="butt"/>
<line x1="419.00" y1="250.90" x2="419.00" y2="253.50" stroke="#000" stroke-width="1.4" stroke-linecap="butt"/>
<text x="420.40" y="258.80" font-size="6.8" text-anchor="end" font-weight="bold" fill="#000" transform="rotate(-45 420.40 258.80)" stroke="#000" stroke-width="0.18">Ms IgG1</text>
<rect x="412.25" y="250.50" width="13.50" height="0.40" fill="#000" stroke="none" stroke-width="0"/>
<line x1="419.00" y1="250.00" x2="419.00" y2="251.00" stroke="#000" stroke-width="1.0" stroke-linecap="butt"/>
<line x1="415.20" y1="250.00" x2="422.80" y2="250.00" stroke="#000" stroke-width="1.0" stroke-linecap="butt"/>
<line x1="439.70" y1="250.90" x2="439.70" y2="253.50" stroke="#000" stroke-width="1.4" stroke-linecap="butt"/>
<text x="441.10" y="258.80" font-size="6.8" text-anchor="end" font-weight="bold" fill="#000" transform="rotate(-45 441.10 258.80)" stroke="#000" stroke-width="0.18">E10</text>
<line x1="460.40" y1="250.90" x2="460.40" y2="253.50" stroke="#000" stroke-width="1.4" stroke-linecap="butt"/>
<text x="461.80" y="258.80" font-size="6.8" text-anchor="end" font-weight="bold" fill="#000" transform="rotate(-45 461.80 258.80)" stroke="#000" stroke-width="0.18">LPS</text>
<rect x="453.65" y="189.60" width="13.50" height="61.30" fill="#000" stroke="none" stroke-width="0"/>
<line x1="460.40" y1="188.10" x2="460.40" y2="190.10" stroke="#000" stroke-width="1.0" stroke-linecap="butt"/>
<line x1="456.60" y1="188.10" x2="464.20" y2="188.10" stroke="#000" stroke-width="1.0" stroke-linecap="butt"/>
<path d="M356.60 194.60V191.60H399.70V194.60" fill="none" stroke="#000" stroke-width="1.35"/>
<text x="378.15" y="191.80" font-size="6.7" text-anchor="middle" font-weight="bold" fill="#000">****</text>
<path d="M356.60 201.90V198.90H378.10V201.90" fill="none" stroke="#000" stroke-width="1.35"/>
<text x="367.35" y="199.10" font-size="6.7" text-anchor="middle" font-weight="bold" fill="#000">****</text>
<text x="408.90" y="152.60" font-size="8.3" text-anchor="middle" font-weight="bold" fill="#000">DC</text>
<text x="318.20" y="160.70" font-size="13" text-anchor="start" font-weight="bold" fill="#000">F</text>
<text x="326.90" y="207.50" font-size="7" text-anchor="middle" font-weight="bold" fill="#000" transform="rotate(-90 326.90 207.50)" stroke="#000" stroke-width="0.18">TNF<tspan font-weight="normal" font-size="7.6" stroke="none">α</tspan> (ng/ml)</text>
<line x1="342.60" y1="306.90" x2="342.60" y2="395.70" stroke="#000" stroke-width="1.4" stroke-linecap="butt"/>
<line x1="341.90" y1="395.00" x2="474.40" y2="395.00" stroke="#000" stroke-width="1.4" stroke-linecap="butt"/>
<line x1="340.00" y1="395.00" x2="342.60" y2="395.00" stroke="#000" stroke-width="1.4" stroke-linecap="butt"/>
<text x="339.10" y="397.25" font-size="6.3" text-anchor="end" font-weight="bold" fill="#000">0</text>
<line x1="340.00" y1="377.50" x2="342.60" y2="377.50" stroke="#000" stroke-width="1.4" stroke-linecap="butt"/>
<text x="339.10" y="379.75" font-size="6.3" text-anchor="end" font-weight="bold" fill="#000">2</text>
<line x1="340.00" y1="360.00" x2="342.60" y2="360.00" stroke="#000" stroke-width="1.4" stroke-linecap="butt"/>
<text x="339.10" y="362.25" font-size="6.3" text-anchor="end" font-weight="bold" fill="#000">4</text>
<line x1="340.00" y1="342.60" x2="342.60" y2="342.60" stroke="#000" stroke-width="1.4" stroke-linecap="butt"/>
<text x="339.10" y="344.85" font-size="6.3" text-anchor="end" font-weight="bold" fill="#000">6</text>
<line x1="340.00" y1="325.10" x2="342.60" y2="325.10" stroke="#000" stroke-width="1.4" stroke-linecap="butt"/>
<text x="339.10" y="327.35" font-size="6.3" text-anchor="end" font-weight="bold" fill="#000">8</text>
<line x1="340.00" y1="307.60" x2="342.60" y2="307.60" stroke="#000" stroke-width="1.4" stroke-linecap="butt"/>
<text x="339.10" y="309.85" font-size="6.3" text-anchor="end" font-weight="bold" fill="#000">10</text>
<line x1="356.50" y1="395.00" x2="356.50" y2="397.60" stroke="#000" stroke-width="1.4" stroke-linecap="butt"/>
<text x="357.90" y="402.90" font-size="6.8" text-anchor="end" font-weight="bold" fill="#000" transform="rotate(-45 357.90 402.90)" stroke="#000" stroke-width="0.18">cell alone</text>
<line x1="377.20" y1="395.00" x2="377.20" y2="397.60" stroke="#000" stroke-width="1.4" stroke-linecap="butt"/>
<text x="378.60" y="402.90" font-size="6.8" text-anchor="end" font-weight="bold" fill="#000" transform="rotate(-45 378.60 402.90)" stroke="#000" stroke-width="0.18">NCL</text>
<rect x="370.45" y="324.90" width="13.50" height="70.10" fill="#000" stroke="none" stroke-width="0"/>
<line x1="377.20" y1="318.30" x2="377.20" y2="325.40" stroke="#000" stroke-width="1.0" stroke-linecap="butt"/>
<line x1="373.40" y1="318.30" x2="381.00" y2="318.30" stroke="#000" stroke-width="1.0" stroke-linecap="butt"/>
<line x1="397.90" y1="395.00" x2="397.90" y2="397.60" stroke="#000" stroke-width="1.4" stroke-linecap="butt"/>
<text x="399.30" y="402.90" font-size="6.8" text-anchor="end" font-weight="bold" fill="#000" transform="rotate(-45 399.30 402.90)" stroke="#000" stroke-width="0.18">HMGB1</text>
<rect x="391.15" y="374.60" width="13.50" height="20.40" fill="#000" stroke="none" stroke-width="0"/>
<line x1="397.90" y1="373.30" x2="397.90" y2="375.10" stroke="#000" stroke-width="1.0" stroke-linecap="butt"/>
<line x1="394.10" y1="373.30" x2="401.70" y2="373.30" stroke="#000" stroke-width="1.0" stroke-linecap="butt"/>
<line x1="418.60" y1="395.00" x2="418.60" y2="397.60" stroke="#000" stroke-width="1.4" stroke-linecap="butt"/>
<text x="420.00" y="402.90" font-size="6.8" text-anchor="end" font-weight="bold" fill="#000" transform="rotate(-45 420.00 402.90)" stroke="#000" stroke-width="0.18">Ms IgG1</text>
<line x1="439.30" y1="395.00" x2="439.30" y2="397.60" stroke="#000" stroke-width="1.4" stroke-linecap="butt"/>
<text x="440.70" y="402.90" font-size="6.8" text-anchor="end" font-weight="bold" fill="#000" transform="rotate(-45 440.70 402.90)" stroke="#000" stroke-width="0.18">E10</text>
<rect x="432.55" y="394.60" width="13.50" height="0.40" fill="#000" stroke="none" stroke-width="0"/>
<line x1="439.30" y1="394.30" x2="439.30" y2="395.10" stroke="#000" stroke-width="1.0" stroke-linecap="butt"/>
<line x1="435.50" y1="394.30" x2="443.10" y2="394.30" stroke="#000" stroke-width="1.0" stroke-linecap="butt"/>
<line x1="460.00" y1="395.00" x2="460.00" y2="397.60" stroke="#000" stroke-width="1.4" stroke-linecap="butt"/>
<text x="461.40" y="402.90" font-size="6.8" text-anchor="end" font-weight="bold" fill="#000" transform="rotate(-45 461.40 402.90)" stroke="#000" stroke-width="0.18">LPS</text>
<rect x="453.25" y="356.10" width="13.50" height="38.90" fill="#000" stroke="none" stroke-width="0"/>
<line x1="460.00" y1="353.40" x2="460.00" y2="356.60" stroke="#000" stroke-width="1.0" stroke-linecap="butt"/>
<line x1="456.20" y1="353.40" x2="463.80" y2="353.40" stroke="#000" stroke-width="1.0" stroke-linecap="butt"/>
<path d="M356.20 309.60V306.60H399.30V309.60" fill="none" stroke="#000" stroke-width="1.35"/>
<text x="377.75" y="306.80" font-size="6.7" text-anchor="middle" font-weight="bold" fill="#000">**</text>
<path d="M356.20 316.80V313.80H378.00V316.80" fill="none" stroke="#000" stroke-width="1.35"/>
<text x="367.10" y="314.00" font-size="6.7" text-anchor="middle" font-weight="bold" fill="#000">****</text>
<text x="408.60" y="297.00" font-size="8.3" text-anchor="middle" font-weight="bold" fill="#000">Macrophages</text>
<text x="323.00" y="303.50" font-size="13" text-anchor="start" font-weight="bold" fill="#000">G</text>
<text x="327.00" y="352.00" font-size="7" text-anchor="middle" font-weight="bold" fill="#000" transform="rotate(-90 327.00 352.00)" stroke="#000" stroke-width="0.18">TNF<tspan font-weight="normal" font-size="7.6" stroke="none">α</tspan> (ng/ml)</text>
<line x1="525.80" y1="32.90" x2="525.80" y2="121.90" stroke="#000" stroke-width="1.4" stroke-linecap="butt"/>
<line x1="657.60" y1="32.90" x2="657.60" y2="121.90" stroke="#000" stroke-width="1.4" stroke-linecap="butt"/>
<line x1="523.20" y1="121.20" x2="660.20" y2="121.20" stroke="#000" stroke-width="1.4" stroke-linecap="butt"/>
<line x1="523.20" y1="121.20" x2="525.80" y2="121.20" stroke="#000" stroke-width="1.4" stroke-linecap="butt"/>
<text x="522.20" y="123.55" font-size="6.7" text-anchor="end" font-weight="bold" fill="#000">0</text>
<line x1="523.20" y1="103.70" x2="525.80" y2="103.70" stroke="#000" stroke-width="1.4" stroke-linecap="butt"/>
<text x="522.20" y="106.05" font-size="6.7" text-anchor="end" font-weight="bold" fill="#000">1000</text>
<line x1="523.20" y1="86.20" x2="525.80" y2="86.20" stroke="#000" stroke-width="1.4" stroke-linecap="butt"/>
<text x="522.20" y="88.55" font-size="6.7" text-anchor="end" font-weight="bold" fill="#000">2000</text>
<line x1="523.20" y1="68.60" x2="525.80" y2="68.60" stroke="#000" stroke-width="1.4" stroke-linecap="butt"/>
<text x="522.20" y="70.95" font-size="6.7" text-anchor="end" font-weight="bold" fill="#000">3000</text>
<line x1="523.20" y1="51.10" x2="525.80" y2="51.10" stroke="#000" stroke-width="1.4" stroke-linecap="butt"/>
<text x="522.20" y="53.45" font-size="6.7" text-anchor="end" font-weight="bold" fill="#000">4000</text>
<line x1="523.20" y1="33.60" x2="525.80" y2="33.60" stroke="#000" stroke-width="1.4" stroke-linecap="butt"/>
<text x="522.20" y="35.95" font-size="6.7" text-anchor="end" font-weight="bold" fill="#000">5000</text>
<line x1="657.60" y1="121.20" x2="660.40" y2="121.20" stroke="#000" stroke-width="1.4" stroke-linecap="butt"/>
<text x="661.00" y="123.55" font-size="6.7" text-anchor="start" font-weight="bold" fill="#000">0</text>
<line x1="657.60" y1="99.30" x2="660.40" y2="99.30" stroke="#000" stroke-width="1.4" stroke-linecap="butt"/>
<text x="661.00" y="101.65" font-size="6.7" text-anchor="start" font-weight="bold" fill="#000">50</text>
<line x1="657.60" y1="77.40" x2="660.40" y2="77.40" stroke="#000" stroke-width="1.4" stroke-linecap="butt"/>
<text x="661.00" y="79.75" font-size="6.7" text-anchor="start" font-weight="bold" fill="#000">100</text>
<line x1="657.60" y1="55.50" x2="660.40" y2="55.50" stroke="#000" stroke-width="1.4" stroke-linecap="butt"/>
<text x="661.00" y="57.85" font-size="6.7" text-anchor="start" font-weight="bold" fill="#000">150</text>
<line x1="657.60" y1="33.60" x2="660.40" y2="33.60" stroke="#000" stroke-width="1.4" stroke-linecap="butt"/>
<text x="661.00" y="35.95" font-size="6.7" text-anchor="start" font-weight="bold" fill="#000">200</text>
<line x1="525.80" y1="121.20" x2="525.80" y2="123.80" stroke="#000" stroke-width="1.4" stroke-linecap="butt"/>
<text x="525.80" y="131.10" font-size="6.5" text-anchor="middle" font-weight="bold" fill="#000">0</text>
<line x1="569.73" y1="121.20" x2="569.73" y2="123.80" stroke="#000" stroke-width="1.4" stroke-linecap="butt"/>
<text x="569.73" y="131.10" font-size="6.5" text-anchor="middle" font-weight="bold" fill="#000">10</text>
<line x1="613.67" y1="121.20" x2="613.67" y2="123.80" stroke="#000" stroke-width="1.4" stroke-linecap="butt"/>
<text x="613.67" y="131.10" font-size="6.5" text-anchor="middle" font-weight="bold" fill="#000">20</text>
<line x1="657.60" y1="121.20" x2="657.60" y2="123.80" stroke="#000" stroke-width="1.4" stroke-linecap="butt"/>
<text x="657.60" y="131.10" font-size="6.5" text-anchor="middle" font-weight="bold" fill="#000">30</text>
<polyline points="534.59,121.00 552.16,55.20 569.73,59.90 587.31,54.30 604.88,58.40 631.24,53.70" fill="none" stroke="#8a1a1b" stroke-width="1.4" stroke-linejoin="round"/>
<rect x="532.99" y="119.40" width="3.20" height="3.20" fill="#8a1a1b" stroke="none" stroke-width="0"/>
<line x1="552.16" y1="49.60" x2="552.16" y2="61.00" stroke="#8a1a1b" stroke-width="0.9" stroke-linecap="butt"/>
<line x1="549.86" y1="49.60" x2="554.46" y2="49.60" stroke="#8a1a1b" stroke-width="0.9" stroke-linecap="butt"/>
<line x1="549.86" y1="61.00" x2="554.46" y2="61.00" stroke="#8a1a1b" stroke-width="0.9" stroke-linecap="butt"/>
<rect x="550.56" y="53.60" width="3.20" height="3.20" fill="#8a1a1b" stroke="none" stroke-width="0"/>
<line x1="569.73" y1="56.20" x2="569.73" y2="63.50" stroke="#8a1a1b" stroke-width="0.9" stroke-linecap="butt"/>
<line x1="567.43" y1="56.20" x2="572.03" y2="56.20" stroke="#8a1a1b" stroke-width="0.9" stroke-linecap="butt"/>
<line x1="567.43" y1="63.50" x2="572.03" y2="63.50" stroke="#8a1a1b" stroke-width="0.9" stroke-linecap="butt"/>
<rect x="568.13" y="58.30" width="3.20" height="3.20" fill="#8a1a1b" stroke="none" stroke-width="0"/>
<line x1="587.31" y1="47.40" x2="587.31" y2="61.10" stroke="#8a1a1b" stroke-width="0.9" stroke-linecap="butt"/>
<line x1="585.01" y1="47.40" x2="589.61" y2="47.40" stroke="#8a1a1b" stroke-width="0.9" stroke-linecap="butt"/>
<line x1="585.01" y1="61.10" x2="589.61" y2="61.10" stroke="#8a1a1b" stroke-width="0.9" stroke-linecap="butt"/>
<rect x="585.71" y="52.70" width="3.20" height="3.20" fill="#8a1a1b" stroke="none" stroke-width="0"/>
<line x1="604.88" y1="49.30" x2="604.88" y2="67.50" stroke="#8a1a1b" stroke-width="0.9" stroke-linecap="butt"/>
<line x1="602.58" y1="49.30" x2="607.18" y2="49.30" stroke="#8a1a1b" stroke-width="0.9" stroke-linecap="butt"/>
<line x1="602.58" y1="67.50" x2="607.18" y2="67.50" stroke="#8a1a1b" stroke-width="0.9" stroke-linecap="butt"/>
<rect x="603.28" y="56.80" width="3.20" height="3.20" fill="#8a1a1b" stroke="none" stroke-width="0"/>
<line x1="631.24" y1="50.40" x2="631.24" y2="57.20" stroke="#8a1a1b" stroke-width="0.9" stroke-linecap="butt"/>
<line x1="628.94" y1="50.40" x2="633.54" y2="50.40" stroke="#8a1a1b" stroke-width="0.9" stroke-linecap="butt"/>
<line x1="628.94" y1="57.20" x2="633.54" y2="57.20" stroke="#8a1a1b" stroke-width="0.9" stroke-linecap="butt"/>
<rect x="629.64" y="52.10" width="3.20" height="3.20" fill="#8a1a1b" stroke="none" stroke-width="0"/>
<polyline points="534.59,104.30 552.16,97.00 569.73,84.90 587.31,77.20 604.88,72.10 631.24,48.20" fill="none" stroke="#000" stroke-width="1.4" stroke-linejoin="round"/>
<line x1="534.59" y1="101.00" x2="534.59" y2="107.60" stroke="#000" stroke-width="0.9" stroke-linecap="butt"/>
<line x1="532.29" y1="101.00" x2="536.89" y2="101.00" stroke="#000" stroke-width="0.9" stroke-linecap="butt"/>
<line x1="532.29" y1="107.60" x2="536.89" y2="107.60" stroke="#000" stroke-width="0.9" stroke-linecap="butt"/>
<circle cx="534.59" cy="104.30" r="1.75" fill="#000" stroke="none" stroke-width="0"/>
<line x1="552.16" y1="92.70" x2="552.16" y2="101.40" stroke="#000" stroke-width="0.9" stroke-linecap="butt"/>
<line x1="549.86" y1="92.70" x2="554.46" y2="92.70" stroke="#000" stroke-width="0.9" stroke-linecap="butt"/>
<line x1="549.86" y1="101.40" x2="554.46" y2="101.40" stroke="#000" stroke-width="0.9" stroke-linecap="butt"/>
<circle cx="552.16" cy="97.00" r="1.75" fill="#000" stroke="none" stroke-width="0"/>
<line x1="569.73" y1="78.40" x2="569.73" y2="91.20" stroke="#000" stroke-width="0.9" stroke-linecap="butt"/>
<line x1="567.43" y1="78.40" x2="572.03" y2="78.40" stroke="#000" stroke-width="0.9" stroke-linecap="butt"/>
<line x1="567.43" y1="91.20" x2="572.03" y2="91.20" stroke="#000" stroke-width="0.9" stroke-linecap="butt"/>
<circle cx="569.73" cy="84.90" r="1.75" fill="#000" stroke="none" stroke-width="0"/>
<line x1="587.31" y1="71.40" x2="587.31" y2="83.00" stroke="#000" stroke-width="0.9" stroke-linecap="butt"/>
<line x1="585.01" y1="71.40" x2="589.61" y2="71.40" stroke="#000" stroke-width="0.9" stroke-linecap="butt"/>
<line x1="585.01" y1="83.00" x2="589.61" y2="83.00" stroke="#000" stroke-width="0.9" stroke-linecap="butt"/>
<circle cx="587.31" cy="77.20" r="1.75" fill="#000" stroke="none" stroke-width="0"/>
<line x1="604.88" y1="65.50" x2="604.88" y2="79.10" stroke="#000" stroke-width="0.9" stroke-linecap="butt"/>
<line x1="602.58" y1="65.50" x2="607.18" y2="65.50" stroke="#000" stroke-width="0.9" stroke-linecap="butt"/>
<line x1="602.58" y1="79.10" x2="607.18" y2="79.10" stroke="#000" stroke-width="0.9" stroke-linecap="butt"/>
<circle cx="604.88" cy="72.10" r="1.75" fill="#000" stroke="none" stroke-width="0"/>
<line x1="631.24" y1="41.60" x2="631.24" y2="54.80" stroke="#000" stroke-width="0.9" stroke-linecap="butt"/>
<line x1="628.94" y1="41.60" x2="633.54" y2="41.60" stroke="#000" stroke-width="0.9" stroke-linecap="butt"/>
<line x1="628.94" y1="54.80" x2="633.54" y2="54.80" stroke="#000" stroke-width="0.9" stroke-linecap="butt"/>
<circle cx="631.24" cy="48.20" r="1.75" fill="#000" stroke="none" stroke-width="0"/>
<text x="592.00" y="22.60" font-size="8.3" text-anchor="middle" font-weight="bold" fill="#000">NCL stimulation</text>
<text x="497.60" y="11.00" font-size="13" text-anchor="start" font-weight="bold" fill="#000">H</text>
<text x="503.40" y="78.00" font-size="7" text-anchor="middle" font-weight="bold" fill="#000" transform="rotate(-90 503.40 78.00)" stroke="#000" stroke-width="0.18">TNF<tspan font-weight="normal" font-size="7.6" stroke="none">α</tspan> (pg/ml)</text>
<line x1="501.00" y1="100.00" x2="501.00" y2="110.00" stroke="#000" stroke-width="1.0" stroke-linecap="butt"/>
<circle cx="501.00" cy="105.00" r="1.90" fill="#000" stroke="none" stroke-width="0"/>
<text x="679.20" y="77.20" font-size="7" text-anchor="middle" font-weight="bold" fill="#000" transform="rotate(90 679.20 77.20)" stroke="#000" stroke-width="0.18">IL-1<tspan font-weight="normal" font-size="7.8" stroke="none">β</tspan> (pg/ml)</text>
<line x1="681.60" y1="44.30" x2="681.60" y2="54.30" stroke="#8a1a1b" stroke-width="1.0" stroke-linecap="butt"/>
<rect x="679.90" y="47.60" width="3.40" height="3.40" fill="#8a1a1b" stroke="none" stroke-width="0"/>
<text x="591.70" y="142.60" font-size="7.2" text-anchor="middle" font-weight="bold" fill="#000">hours</text>
<line x1="522.10" y1="173.50" x2="522.10" y2="262.40" stroke="#000" stroke-width="1.4" stroke-linecap="butt"/>
<line x1="654.30" y1="173.50" x2="654.30" y2="262.40" stroke="#000" stroke-width="1.4" stroke-linecap="butt"/>
<line x1="519.50" y1="261.70" x2="656.90" y2="261.70" stroke="#000" stroke-width="1.4" stroke-linecap="butt"/>
<line x1="519.50" y1="261.70" x2="522.10" y2="261.70" stroke="#000" stroke-width="1.4" stroke-linecap="butt"/>
<text x="518.50" y="264.05" font-size="6.7" text-anchor="end" font-weight="bold" fill="#000">0</text>
<line x1="519.50" y1="239.80" x2="522.10" y2="239.80" stroke="#000" stroke-width="1.4" stroke-linecap="butt"/>
<text x="518.50" y="242.15" font-size="6.7" text-anchor="end" font-weight="bold" fill="#000">200</text>
<line x1="519.50" y1="217.90" x2="522.10" y2="217.90" stroke="#000" stroke-width="1.4" stroke-linecap="butt"/>
<text x="518.50" y="220.25" font-size="6.7" text-anchor="end" font-weight="bold" fill="#000">400</text>
<line x1="519.50" y1="196.00" x2="522.10" y2="196.00" stroke="#000" stroke-width="1.4" stroke-linecap="butt"/>
<text x="518.50" y="198.35" font-size="6.7" text-anchor="end" font-weight="bold" fill="#000">600</text>
<line x1="519.50" y1="174.20" x2="522.10" y2="174.20" stroke="#000" stroke-width="1.4" stroke-linecap="butt"/>
<text x="518.50" y="176.55" font-size="6.7" text-anchor="end" font-weight="bold" fill="#000">800</text>
<line x1="654.30" y1="261.70" x2="657.10" y2="261.70" stroke="#000" stroke-width="1.4" stroke-linecap="butt"/>
<text x="657.70" y="264.05" font-size="6.7" text-anchor="start" font-weight="bold" fill="#000">0</text>
<line x1="654.30" y1="244.20" x2="657.10" y2="244.20" stroke="#000" stroke-width="1.4" stroke-linecap="butt"/>
<text x="657.70" y="246.55" font-size="6.7" text-anchor="start" font-weight="bold" fill="#000">5</text>
<line x1="654.30" y1="226.70" x2="657.10" y2="226.70" stroke="#000" stroke-width="1.4" stroke-linecap="butt"/>
<text x="657.70" y="229.05" font-size="6.7" text-anchor="start" font-weight="bold" fill="#000">10</text>
<line x1="654.30" y1="209.20" x2="657.10" y2="209.20" stroke="#000" stroke-width="1.4" stroke-linecap="butt"/>
<text x="657.70" y="211.55" font-size="6.7" text-anchor="start" font-weight="bold" fill="#000">15</text>
<line x1="654.30" y1="191.70" x2="657.10" y2="191.70" stroke="#000" stroke-width="1.4" stroke-linecap="butt"/>
<text x="657.70" y="194.05" font-size="6.7" text-anchor="start" font-weight="bold" fill="#000">20</text>
<line x1="654.30" y1="174.20" x2="657.10" y2="174.20" stroke="#000" stroke-width="1.4" stroke-linecap="butt"/>
<text x="657.70" y="176.55" font-size="6.7" text-anchor="start" font-weight="bold" fill="#000">25</text>
<line x1="522.10" y1="261.70" x2="522.10" y2="264.30" stroke="#000" stroke-width="1.4" stroke-linecap="butt"/>
<text x="522.10" y="271.30" font-size="6.5" text-anchor="middle" font-weight="bold" fill="#000">0</text>
<line x1="566.17" y1="261.70" x2="566.17" y2="264.30" stroke="#000" stroke-width="1.4" stroke-linecap="butt"/>
<text x="566.17" y="271.30" font-size="6.5" text-anchor="middle" font-weight="bold" fill="#000">10</text>
<line x1="610.23" y1="261.70" x2="610.23" y2="264.30" stroke="#000" stroke-width="1.4" stroke-linecap="butt"/>
<text x="610.23" y="271.30" font-size="6.5" text-anchor="middle" font-weight="bold" fill="#000">20</text>
<line x1="654.30" y1="261.70" x2="654.30" y2="264.30" stroke="#000" stroke-width="1.4" stroke-linecap="butt"/>
<text x="654.30" y="271.30" font-size="6.5" text-anchor="middle" font-weight="bold" fill="#000">30</text>
<polyline points="530.91,261.50 548.54,217.60 566.17,210.00 583.79,208.40 601.42,203.50 627.86,196.10" fill="none" stroke="#8a1a1b" stroke-width="1.4" stroke-linejoin="round"/>
<rect x="529.31" y="259.90" width="3.20" height="3.20" fill="#8a1a1b" stroke="none" stroke-width="0"/>
<line x1="548.54" y1="211.50" x2="548.54" y2="223.50" stroke="#8a1a1b" stroke-width="0.9" stroke-linecap="butt"/>
<line x1="546.24" y1="211.50" x2="550.84" y2="211.50" stroke="#8a1a1b" stroke-width="0.9" stroke-linecap="butt"/>
<line x1="546.24" y1="223.50" x2="550.84" y2="223.50" stroke="#8a1a1b" stroke-width="0.9" stroke-linecap="butt"/>
<rect x="546.94" y="216.00" width="3.20" height="3.20" fill="#8a1a1b" stroke="none" stroke-width="0"/>
<line x1="566.17" y1="200.50" x2="566.17" y2="219.50" stroke="#8a1a1b" stroke-width="0.9" stroke-linecap="butt"/>
<line x1="563.87" y1="200.50" x2="568.47" y2="200.50" stroke="#8a1a1b" stroke-width="0.9" stroke-linecap="butt"/>
<line x1="563.87" y1="219.50" x2="568.47" y2="219.50" stroke="#8a1a1b" stroke-width="0.9" stroke-linecap="butt"/>
<rect x="564.57" y="208.40" width="3.20" height="3.20" fill="#8a1a1b" stroke="none" stroke-width="0"/>
<line x1="583.79" y1="197.20" x2="583.79" y2="219.10" stroke="#8a1a1b" stroke-width="0.9" stroke-linecap="butt"/>
<line x1="581.49" y1="197.20" x2="586.09" y2="197.20" stroke="#8a1a1b" stroke-width="0.9" stroke-linecap="butt"/>
<line x1="581.49" y1="219.10" x2="586.09" y2="219.10" stroke="#8a1a1b" stroke-width="0.9" stroke-linecap="butt"/>
<rect x="582.19" y="206.80" width="3.20" height="3.20" fill="#8a1a1b" stroke="none" stroke-width="0"/>
<line x1="601.42" y1="195.40" x2="601.42" y2="211.60" stroke="#8a1a1b" stroke-width="0.9" stroke-linecap="butt"/>
<line x1="599.12" y1="195.40" x2="603.72" y2="195.40" stroke="#8a1a1b" stroke-width="0.9" stroke-linecap="butt"/>
<line x1="599.12" y1="211.60" x2="603.72" y2="211.60" stroke="#8a1a1b" stroke-width="0.9" stroke-linecap="butt"/>
<rect x="599.82" y="201.90" width="3.20" height="3.20" fill="#8a1a1b" stroke="none" stroke-width="0"/>
<line x1="627.86" y1="192.40" x2="627.86" y2="200.20" stroke="#8a1a1b" stroke-width="0.9" stroke-linecap="butt"/>
<line x1="625.56" y1="192.40" x2="630.16" y2="192.40" stroke="#8a1a1b" stroke-width="0.9" stroke-linecap="butt"/>
<line x1="625.56" y1="200.20" x2="630.16" y2="200.20" stroke="#8a1a1b" stroke-width="0.9" stroke-linecap="butt"/>
<rect x="626.26" y="194.50" width="3.20" height="3.20" fill="#8a1a1b" stroke="none" stroke-width="0"/>
<polyline points="530.91,249.00 548.54,244.20 566.17,240.00 583.79,228.30 601.42,217.20 627.86,187.30" fill="none" stroke="#000" stroke-width="1.4" stroke-linejoin="round"/>
<line x1="530.91" y1="245.40" x2="530.91" y2="252.20" stroke="#000" stroke-width="0.9" stroke-linecap="butt"/>
<line x1="528.61" y1="245.40" x2="533.21" y2="245.40" stroke="#000" stroke-width="0.9" stroke-linecap="butt"/>
<line x1="528.61" y1="252.20" x2="533.21" y2="252.20" stroke="#000" stroke-width="0.9" stroke-linecap="butt"/>
<circle cx="530.91" cy="249.00" r="1.75" fill="#000" stroke="none" stroke-width="0"/>
<line x1="548.54" y1="240.70" x2="548.54" y2="247.80" stroke="#000" stroke-width="0.9" stroke-linecap="butt"/>
<line x1="546.24" y1="240.70" x2="550.84" y2="240.70" stroke="#000" stroke-width="0.9" stroke-linecap="butt"/>
<line x1="546.24" y1="247.80" x2="550.84" y2="247.80" stroke="#000" stroke-width="0.9" stroke-linecap="butt"/>
<circle cx="548.54" cy="244.20" r="1.75" fill="#000" stroke="none" stroke-width="0"/>
<line x1="566.17" y1="235.40" x2="566.17" y2="244.60" stroke="#000" stroke-width="0.9" stroke-linecap="butt"/>
<line x1="563.87" y1="235.40" x2="568.47" y2="235.40" stroke="#000" stroke-width="0.9" stroke-linecap="butt"/>
<line x1="563.87" y1="244.60" x2="568.47" y2="244.60" stroke="#000" stroke-width="0.9" stroke-linecap="butt"/>
<circle cx="566.17" cy="240.00" r="1.75" fill="#000" stroke="none" stroke-width="0"/>
<line x1="583.79" y1="225.40" x2="583.79" y2="230.50" stroke="#000" stroke-width="0.9" stroke-linecap="butt"/>
<line x1="581.49" y1="225.40" x2="586.09" y2="225.40" stroke="#000" stroke-width="0.9" stroke-linecap="butt"/>
<line x1="581.49" y1="230.50" x2="586.09" y2="230.50" stroke="#000" stroke-width="0.9" stroke-linecap="butt"/>
<circle cx="583.79" cy="228.30" r="1.75" fill="#000" stroke="none" stroke-width="0"/>
<line x1="601.42" y1="210.30" x2="601.42" y2="224.90" stroke="#000" stroke-width="0.9" stroke-linecap="butt"/>
<line x1="599.12" y1="210.30" x2="603.72" y2="210.30" stroke="#000" stroke-width="0.9" stroke-linecap="butt"/>
<line x1="599.12" y1="224.90" x2="603.72" y2="224.90" stroke="#000" stroke-width="0.9" stroke-linecap="butt"/>
<circle cx="601.42" cy="217.20" r="1.75" fill="#000" stroke="none" stroke-width="0"/>
<line x1="627.86" y1="183.70" x2="627.86" y2="191.00" stroke="#000" stroke-width="0.9" stroke-linecap="butt"/>
<line x1="625.56" y1="183.70" x2="630.16" y2="183.70" stroke="#000" stroke-width="0.9" stroke-linecap="butt"/>
<line x1="625.56" y1="191.00" x2="630.16" y2="191.00" stroke="#000" stroke-width="0.9" stroke-linecap="butt"/>
<circle cx="627.86" cy="187.30" r="1.75" fill="#000" stroke="none" stroke-width="0"/>
<text x="588.30" y="162.80" font-size="8.3" text-anchor="middle" font-weight="bold" fill="#000">HMGB1 stimulation</text>
<text x="497.60" y="160.40" font-size="13" text-anchor="start" font-weight="bold" fill="#000">I</text>
<text x="503.40" y="217.50" font-size="7" text-anchor="middle" font-weight="bold" fill="#000" transform="rotate(-90 503.40 217.50)" stroke="#000" stroke-width="0.18">TNF<tspan font-weight="normal" font-size="7.6" stroke="none">α</tspan> (pg/ml)</text>
<line x1="501.00" y1="241.10" x2="501.00" y2="251.10" stroke="#000" stroke-width="1.0" stroke-linecap="butt"/>
<circle cx="501.00" cy="246.10" r="1.90" fill="#000" stroke="none" stroke-width="0"/>
<text x="672.80" y="217.60" font-size="7" text-anchor="middle" font-weight="bold" fill="#000" transform="rotate(90 672.80 217.60)" stroke="#000" stroke-width="0.18">IL-1<tspan font-weight="normal" font-size="7.8" stroke="none">β</tspan> (pg/ml)</text>
<line x1="675.20" y1="186.20" x2="675.20" y2="196.20" stroke="#8a1a1b" stroke-width="1.0" stroke-linecap="butt"/>
<rect x="673.50" y="189.50" width="3.40" height="3.40" fill="#8a1a1b" stroke="none" stroke-width="0"/>
<text x="588.40" y="283.00" font-size="7.2" text-anchor="middle" font-weight="bold" fill="#000">hours</text>
<line x1="520.80" y1="313.50" x2="520.80" y2="402.60" stroke="#000" stroke-width="1.4" stroke-linecap="butt"/>
<line x1="652.90" y1="313.50" x2="652.90" y2="402.60" stroke="#000" stroke-width="1.4" stroke-linecap="butt"/>
<line x1="518.20" y1="401.90" x2="655.50" y2="401.90" stroke="#000" stroke-width="1.4" stroke-linecap="butt"/>
<line x1="518.20" y1="401.90" x2="520.80" y2="401.90" stroke="#000" stroke-width="1.4" stroke-linecap="butt"/>
<text x="517.20" y="404.25" font-size="6.7" text-anchor="end" font-weight="bold" fill="#000">0</text>
<line x1="518.20" y1="372.70" x2="520.80" y2="372.70" stroke="#000" stroke-width="1.4" stroke-linecap="butt"/>
<text x="517.20" y="375.05" font-size="6.7" text-anchor="end" font-weight="bold" fill="#000">5000</text>
<line x1="518.20" y1="343.50" x2="520.80" y2="343.50" stroke="#000" stroke-width="1.4" stroke-linecap="butt"/>
<text x="517.20" y="345.85" font-size="6.7" text-anchor="end" font-weight="bold" fill="#000">10000</text>
<line x1="518.20" y1="314.20" x2="520.80" y2="314.20" stroke="#000" stroke-width="1.4" stroke-linecap="butt"/>
<text x="517.20" y="316.55" font-size="6.7" text-anchor="end" font-weight="bold" fill="#000">15000</text>
<line x1="652.90" y1="401.90" x2="655.70" y2="401.90" stroke="#000" stroke-width="1.4" stroke-linecap="butt"/>
<text x="656.30" y="404.25" font-size="6.7" text-anchor="start" font-weight="bold" fill="#000">0</text>
<line x1="652.90" y1="372.70" x2="655.70" y2="372.70" stroke="#000" stroke-width="1.4" stroke-linecap="butt"/>
<text x="656.30" y="375.05" font-size="6.7" text-anchor="start" font-weight="bold" fill="#000">500</text>
<line x1="652.90" y1="343.50" x2="655.70" y2="343.50" stroke="#000" stroke-width="1.4" stroke-linecap="butt"/>
<text x="656.30" y="345.85" font-size="6.7" text-anchor="start" font-weight="bold" fill="#000">1000</text>
<line x1="652.90" y1="314.20" x2="655.70" y2="314.20" stroke="#000" stroke-width="1.4" stroke-linecap="butt"/>
<text x="656.30" y="316.55" font-size="6.7" text-anchor="start" font-weight="bold" fill="#000">1500</text>
<line x1="520.80" y1="401.90" x2="520.80" y2="404.50" stroke="#000" stroke-width="1.4" stroke-linecap="butt"/>
<text x="520.80" y="411.60" font-size="6.5" text-anchor="middle" font-weight="bold" fill="#000">0</text>
<line x1="564.83" y1="401.90" x2="564.83" y2="404.50" stroke="#000" stroke-width="1.4" stroke-linecap="butt"/>
<text x="564.83" y="411.60" font-size="6.5" text-anchor="middle" font-weight="bold" fill="#000">10</text>
<line x1="608.87" y1="401.90" x2="608.87" y2="404.50" stroke="#000" stroke-width="1.4" stroke-linecap="butt"/>
<text x="608.87" y="411.60" font-size="6.5" text-anchor="middle" font-weight="bold" fill="#000">20</text>
<line x1="652.90" y1="401.90" x2="652.90" y2="404.50" stroke="#000" stroke-width="1.4" stroke-linecap="butt"/>
<text x="652.90" y="411.60" font-size="6.5" text-anchor="middle" font-weight="bold" fill="#000">30</text>
<polyline points="529.61,401.80 547.22,382.70 564.83,364.20 582.45,351.10 600.06,342.30 626.48,333.90" fill="none" stroke="#8a1a1b" stroke-width="1.4" stroke-linejoin="round"/>
<rect x="528.01" y="400.20" width="3.20" height="3.20" fill="#8a1a1b" stroke="none" stroke-width="0"/>
<line x1="547.22" y1="380.50" x2="547.22" y2="385.00" stroke="#8a1a1b" stroke-width="0.9" stroke-linecap="butt"/>
<line x1="544.92" y1="380.50" x2="549.52" y2="380.50" stroke="#8a1a1b" stroke-width="0.9" stroke-linecap="butt"/>
<line x1="544.92" y1="385.00" x2="549.52" y2="385.00" stroke="#8a1a1b" stroke-width="0.9" stroke-linecap="butt"/>
<rect x="545.62" y="381.10" width="3.20" height="3.20" fill="#8a1a1b" stroke="none" stroke-width="0"/>
<line x1="564.83" y1="358.40" x2="564.83" y2="369.30" stroke="#8a1a1b" stroke-width="0.9" stroke-linecap="butt"/>
<line x1="562.53" y1="358.40" x2="567.13" y2="358.40" stroke="#8a1a1b" stroke-width="0.9" stroke-linecap="butt"/>
<line x1="562.53" y1="369.30" x2="567.13" y2="369.30" stroke="#8a1a1b" stroke-width="0.9" stroke-linecap="butt"/>
<rect x="563.23" y="362.60" width="3.20" height="3.20" fill="#8a1a1b" stroke="none" stroke-width="0"/>
<line x1="582.45" y1="346.00" x2="582.45" y2="357.60" stroke="#8a1a1b" stroke-width="0.9" stroke-linecap="butt"/>
<line x1="580.15" y1="346.00" x2="584.75" y2="346.00" stroke="#8a1a1b" stroke-width="0.9" stroke-linecap="butt"/>
<line x1="580.15" y1="357.60" x2="584.75" y2="357.60" stroke="#8a1a1b" stroke-width="0.9" stroke-linecap="butt"/>
<rect x="580.85" y="349.50" width="3.20" height="3.20" fill="#8a1a1b" stroke="none" stroke-width="0"/>
<line x1="600.06" y1="333.60" x2="600.06" y2="351.00" stroke="#8a1a1b" stroke-width="0.9" stroke-linecap="butt"/>
<line x1="597.76" y1="333.60" x2="602.36" y2="333.60" stroke="#8a1a1b" stroke-width="0.9" stroke-linecap="butt"/>
<line x1="597.76" y1="351.00" x2="602.36" y2="351.00" stroke="#8a1a1b" stroke-width="0.9" stroke-linecap="butt"/>
<rect x="598.46" y="340.70" width="3.20" height="3.20" fill="#8a1a1b" stroke="none" stroke-width="0"/>
<line x1="626.48" y1="331.00" x2="626.48" y2="336.80" stroke="#8a1a1b" stroke-width="0.9" stroke-linecap="butt"/>
<line x1="624.18" y1="331.00" x2="628.78" y2="331.00" stroke="#8a1a1b" stroke-width="0.9" stroke-linecap="butt"/>
<line x1="624.18" y1="336.80" x2="628.78" y2="336.80" stroke="#8a1a1b" stroke-width="0.9" stroke-linecap="butt"/>
<rect x="624.88" y="332.30" width="3.20" height="3.20" fill="#8a1a1b" stroke="none" stroke-width="0"/>
<polyline points="529.61,397.20 547.22,374.10 564.83,363.90 582.45,353.20 600.06,348.90 626.48,347.40" fill="none" stroke="#000" stroke-width="1.4" stroke-linejoin="round"/>
<circle cx="529.61" cy="397.20" r="1.75" fill="#000" stroke="none" stroke-width="0"/>
<line x1="547.22" y1="366.10" x2="547.22" y2="382.00" stroke="#000" stroke-width="0.9" stroke-linecap="butt"/>
<line x1="544.92" y1="366.10" x2="549.52" y2="366.10" stroke="#000" stroke-width="0.9" stroke-linecap="butt"/>
<line x1="544.92" y1="382.00" x2="549.52" y2="382.00" stroke="#000" stroke-width="0.9" stroke-linecap="butt"/>
<circle cx="547.22" cy="374.10" r="1.75" fill="#000" stroke="none" stroke-width="0"/>
<line x1="564.83" y1="360.10" x2="564.83" y2="367.40" stroke="#000" stroke-width="0.9" stroke-linecap="butt"/>
<line x1="562.53" y1="360.10" x2="567.13" y2="360.10" stroke="#000" stroke-width="0.9" stroke-linecap="butt"/>
<line x1="562.53" y1="367.40" x2="567.13" y2="367.40" stroke="#000" stroke-width="0.9" stroke-linecap="butt"/>
<circle cx="564.83" cy="363.90" r="1.75" fill="#000" stroke="none" stroke-width="0"/>
<line x1="582.45" y1="342.70" x2="582.45" y2="364.20" stroke="#000" stroke-width="0.9" stroke-linecap="butt"/>
<line x1="580.15" y1="342.70" x2="584.75" y2="342.70" stroke="#000" stroke-width="0.9" stroke-linecap="butt"/>
<line x1="580.15" y1="364.20" x2="584.75" y2="364.20" stroke="#000" stroke-width="0.9" stroke-linecap="butt"/>
<circle cx="582.45" cy="353.20" r="1.75" fill="#000" stroke="none" stroke-width="0"/>
<line x1="600.06" y1="346.00" x2="600.06" y2="351.80" stroke="#000" stroke-width="0.9" stroke-linecap="butt"/>
<line x1="597.76" y1="346.00" x2="602.36" y2="346.00" stroke="#000" stroke-width="0.9" stroke-linecap="butt"/>
<line x1="597.76" y1="351.80" x2="602.36" y2="351.80" stroke="#000" stroke-width="0.9" stroke-linecap="butt"/>
<circle cx="600.06" cy="348.90" r="1.75" fill="#000" stroke="none" stroke-width="0"/>
<circle cx="626.48" cy="347.40" r="1.75" fill="#000" stroke="none" stroke-width="0"/>
<text x="587.10" y="302.90" font-size="8.3" text-anchor="middle" font-weight="bold" fill="#000">LPS stimulation</text>
<text x="488.40" y="303.60" font-size="13" text-anchor="start" font-weight="bold" fill="#000">J</text>
<text x="494.70" y="357.50" font-size="7" text-anchor="middle" font-weight="bold" fill="#000" transform="rotate(-90 494.70 357.50)" stroke="#000" stroke-width="0.18">TNF<tspan font-weight="normal" font-size="7.6" stroke="none">α</tspan> (pg/ml)</text>
<line x1="492.30" y1="380.40" x2="492.30" y2="390.40" stroke="#000" stroke-width="1.0" stroke-linecap="butt"/>
<circle cx="492.30" cy="385.40" r="1.90" fill="#000" stroke="none" stroke-width="0"/>
<text x="678.80" y="358.50" font-size="7" text-anchor="middle" font-weight="bold" fill="#000" transform="rotate(90 678.80 358.50)" stroke="#000" stroke-width="0.18">IL-1<tspan font-weight="normal" font-size="7.8" stroke="none">β</tspan> (pg/ml)</text>
<line x1="681.20" y1="327.00" x2="681.20" y2="337.00" stroke="#8a1a1b" stroke-width="1.0" stroke-linecap="butt"/>
<rect x="679.50" y="330.30" width="3.40" height="3.40" fill="#8a1a1b" stroke="none" stroke-width="0"/>
<text x="586.90" y="423.30" font-size="7.2" text-anchor="middle" font-weight="bold" fill="#000">hours</text>
</svg>
</body></html>
